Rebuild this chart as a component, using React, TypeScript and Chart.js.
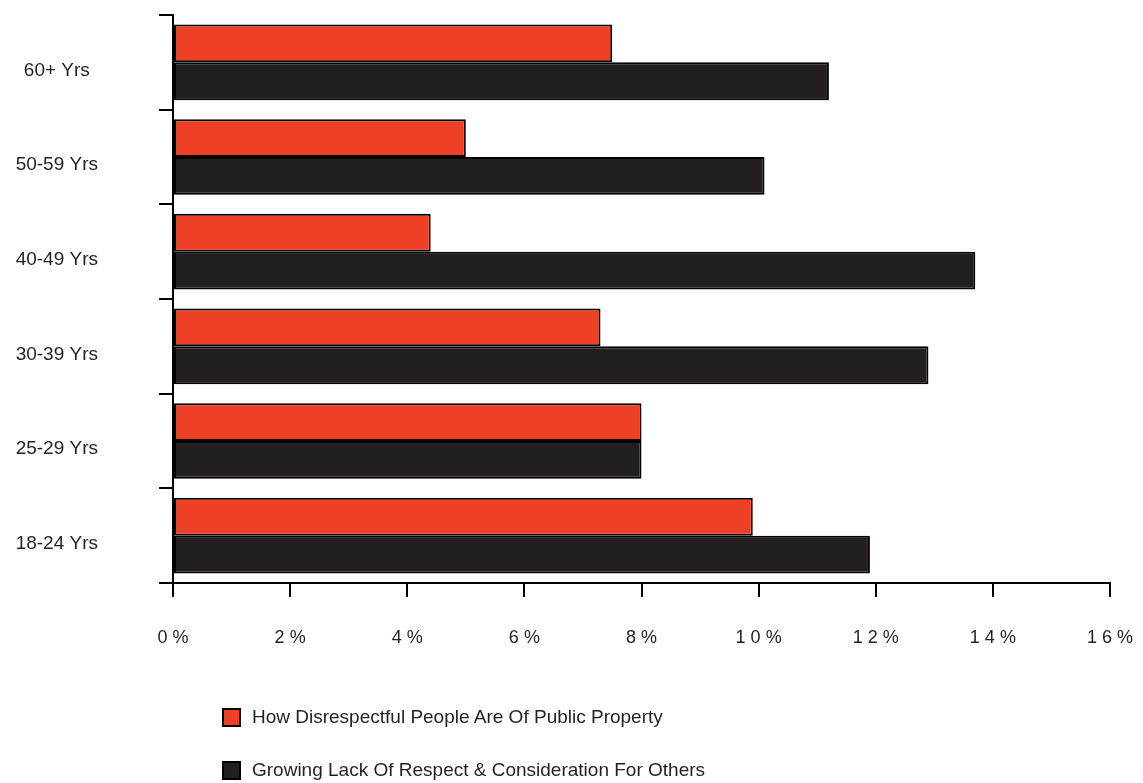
import React, { useEffect, useRef } from "react";
import { Chart, registerables } from "chart.js";

Chart.register(...registerables);

const categories = ["60+ Yrs", "50-59 Yrs", "40-49 Yrs", "30-39 Yrs", "25-29 Yrs", "18-24 Yrs"];
const publicProperty = [7.5, 5.0, 4.4, 7.3, 8.0, 9.9];
const lackOfRespect = [11.2, 10.1, 13.7, 12.9, 8.0, 11.9];
const seriesNames = [
  "How Disrespectful People Are Of Public Property",
  "Growing Lack Of Respect & Consideration For Others",
];
const seriesColors = ["#EE4024", "#231F20"];
const xTicks = [0, 2, 4, 6, 8, 10, 12, 14, 16];

const FONT = "'Liberation Sans', Arial, sans-serif";

export default function App() {
  const ref = useRef<HTMLCanvasElement | null>(null);

  useEffect(() => {
    if (!ref.current) return;
    const chart = new Chart(ref.current, {
      type: "bar",
      data: {
        labels: categories,
        datasets: [
          {
            label: seriesNames[0],
            data: publicProperty,
            backgroundColor: seriesColors[0],
            borderColor: "#000",
            borderWidth: 2,
            borderSkipped: false,
            categoryPercentage: 0.8,
            barPercentage: 1.0,
          },
          {
            label: seriesNames[1],
            data: lackOfRespect,
            backgroundColor: seriesColors[1],
            borderColor: "#000",
            borderWidth: 2,
            borderSkipped: false,
            categoryPercentage: 0.8,
            barPercentage: 1.0,
          },
        ],
      },
      options: {
        indexAxis: "y",
        animation: false,
        responsive: false,
        maintainAspectRatio: false,
        layout: { padding: { top: 15, right: 33, left: 0, bottom: 0 } },
        plugins: {
          legend: { display: false },
          tooltip: { enabled: false },
        },
        scales: {
          x: {
            min: 0,
            max: 16,
            afterBuildTicks: (scale: any) => {
              scale.ticks = xTicks.map((v) => ({ value: v }));
            },
            afterFit: (scale: any) => {
              scale.height = 200;
              scale.paddingLeft = 0;
              scale.paddingRight = 0;
              scale.paddingTop = 0;
              scale.paddingBottom = 0;
            },
            border: { display: true, color: "#000", width: 2 },
            grid: {
              drawOnChartArea: false,
              drawTicks: true,
              tickLength: 14,
              color: "#000",
              lineWidth: 2,
            },
            ticks: {
              padding: 30,
              color: "#231F20",
              font: { family: FONT, size: 18 },
              maxRotation: 0,
              callback: (v: any) => String(v).split("").join(" ") + " %",
            },
          },
          y: {
            afterFit: (scale: any) => {
              scale.width = 173;
              scale.paddingLeft = 0;
              scale.paddingRight = 0;
              scale.paddingTop = 0;
              scale.paddingBottom = 0;
            },
            border: { display: true, color: "#000", width: 2 },
            grid: {
              offset: true,
              drawOnChartArea: false,
              drawTicks: true,
              tickLength: 14,
              color: "#000",
              lineWidth: 2,
            },
            ticks: {
              crossAlign: "center",
              padding: 61,
              labelOffset: 8,
              color: "#231F20",
              font: { family: FONT, size: 19 },
            },
          },
        },
      },
    });
    return () => chart.destroy();
  }, []);

  return (
    <div style={{ position: "fixed", left: 0, top: 0, width: 1143, height: 783, background: "#fff" }}>
      <canvas ref={ref} width={1143} height={783} style={{ position: "absolute", left: 0, top: 0 }} />
      <div style={{ position: "absolute", left: 222, top: 706, fontFamily: FONT, fontSize: 19, color: "#231F20" }}>
        {seriesNames.map((name, i) => (
          <div key={name} style={{ display: "flex", alignItems: "center", height: 22, marginBottom: 31 }}>
            <span
              style={{
                display: "inline-block",
                width: 15,
                height: 15,
                background: seriesColors[i],
                border: "2px solid #000",
                marginRight: 11,
              }}
            />
            <span>{name}</span>
          </div>
        ))}
      </div>
    </div>
  );
}
